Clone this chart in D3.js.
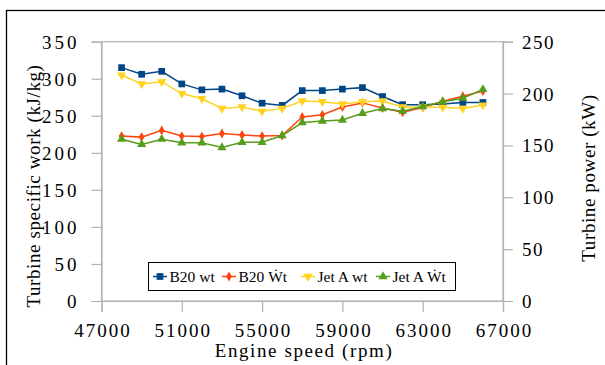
<!DOCTYPE html>
<html>
<head>
<meta charset="utf-8">
<script src="https://cdn.jsdelivr.net/npm/d3@7"></script>
<style>
  body { margin: 0; background: #fff; }
  svg text { font-family: "Liberation Serif", "Times New Roman", Times, "DejaVu Serif", serif !important; fill: #000; }
</style>
</head>
<body>
<svg id="chart" width="605" height="365"></svg>
<script>
// engine speed (rpm) for each measurement
var speeds = [48000, 49000, 50000, 51000, 52000, 53000, 54000, 55000, 56000, 57000,
  58000, 59000, 60000, 61000, 62000, 63000, 64000, 65000, 66000];

// specific work (kJ/kg), left axis
var b20Work = [315, 306, 310, 293, 285, 286, 277, 267, 264, 284,
  284, 286, 288, 276, 265, 265, 266, 268, 268];
var jetAWork = [305, 293, 296, 280, 273, 260, 262, 256, 260, 270,
  269, 266, 269, 270, 262, 262, 261.5, 260, 264.5];

// turbine power (kW), right axis
var b20Power = [159, 158, 164.5, 159, 158.5, 161.5, 160, 159, 159.5, 177.5,
  179.5, 187, 191, 186, 182, 186.5, 192.5, 197.5, 202.5];
var jetAPower = [156, 151, 156, 152.5, 152.5, 148, 153, 153, 159.5, 172,
  173.5, 174.5, 181, 185.5, 183, 187.5, 192, 195.5, 204];

var xTicks = [47000, 51000, 55000, 59000, 63000, 67000];
var leftTicks = [0, 50, 100, 150, 200, 250, 300, 350];
var rightTicks = [0, 50, 100, 150, 200, 250];

var series = [
  { name: "B20 wt",   values: b20Work,   axis: "left",  color: "#004586", symbol: d3.symbolSquare,   size: 45 },
  { name: "B20 \u1E86t", values: b20Power, axis: "right", color: "#ff420e", symbol: d3.symbolDiamond,  size: 28 },
  { name: "Jet A wt", values: jetAWork,  axis: "left",  color: "#ffd320", symbol: "down",            size: 36 },
  { name: "Jet A \u1E86t", values: jetAPower, axis: "right", color: "#579d1c", symbol: d3.symbolTriangle, size: 36 }
];

var svg = d3.select("#chart");

// outer frame (only top and left visible in picture)
svg.append("rect")
  .attr("x", 6.5).attr("y", 10.5)
  .attr("width", 640).attr("height", 400)
  .attr("fill", "none").attr("stroke", "#000").attr("stroke-width", 1.3);

var x = d3.scaleLinear().domain([47000, 67000]).range([101.5, 503]);
var yL = d3.scaleLinear().domain([0, 350]).range([301, 41.7]);
var yR = d3.scaleLinear().domain([0, 250]).range([301, 41.7]);

// plot area border
svg.append("rect")
  .attr("x", x(47000)).attr("y", yL(350))
  .attr("width", x(67000) - x(47000)).attr("height", yL(0) - yL(350))
  .attr("fill", "none").attr("stroke", "#b3b3b3").attr("stroke-width", 1.2);

function styleAxis(g) {
  g.attr("font-family", null);
  g.select(".domain").attr("stroke", "#b3b3b3").attr("stroke-width", 1.2);
  g.selectAll(".tick line").attr("stroke", "#b3b3b3").attr("stroke-width", 1.2);
  g.selectAll(".tick text").style("font-size", "19px").attr("fill", "#000");
}

svg.append("g")
  .attr("transform", "translate(0," + yL(0) + ")")
  .call(d3.axisBottom(x).tickValues(xTicks).tickFormat(d3.format("d")).tickSizeOuter(0).tickSize(11).tickPadding(12))
  .call(styleAxis)
  .selectAll(".tick text").style("letter-spacing", "2px").attr("dx", "1px");

svg.append("g")
  .attr("transform", "translate(" + x(47000) + ",0)")
  .call(d3.axisLeft(yL).tickValues(leftTicks).tickSizeOuter(0).tickSize(10).tickPadding(12))
  .call(styleAxis)
  .selectAll(".tick text").attr("dy", "0.34em").style("letter-spacing", "3px");

svg.append("g")
  .attr("transform", "translate(" + x(67000) + ",0)")
  .call(d3.axisRight(yR).tickValues(rightTicks).tickSizeOuter(0).tickSize(10).tickPadding(9))
  .call(styleAxis)
  .selectAll(".tick text").attr("dy", "0.34em").style("letter-spacing", "1.5px");

// axis titles
svg.append("text")
  .attr("transform", "translate(40,186) rotate(-90)")
  .attr("text-anchor", "middle")
  .style("font-size", "19px").style("letter-spacing", "0.6px")
  .text("Turbine specific work (kJ/kg)");

svg.append("text")
  .attr("transform", "translate(595,178) rotate(-90)")
  .attr("text-anchor", "middle")
  .style("font-size", "19px").style("letter-spacing", "0.6px")
  .text("Turbine power (kW)");

svg.append("text")
  .attr("x", 304).attr("y", 357)
  .attr("text-anchor", "middle")
  .style("font-size", "19px").style("letter-spacing", "1.6px")
  .text("Engine speed (rpm)");

function symbolPath(s) {
  if (s.symbol === "down") {
    return d3.symbol().type(d3.symbolTriangle).size(s.size)();
  }
  return d3.symbol().type(s.symbol).size(s.size)();
}

// lines and markers
series.forEach(function(s) {
  var y = s.axis === "left" ? yL : yR;
  var line = d3.line()
    .x(function(d, i) { return x(speeds[i]); })
    .y(function(d) { return y(d); });

  svg.append("path")
    .datum(s.values)
    .attr("d", line)
    .attr("fill", "none")
    .attr("stroke", s.color)
    .attr("stroke-width", 1.5);

  svg.selectAll(null)
    .data(s.values)
    .enter().append("path")
    .attr("d", symbolPath(s))
    .attr("transform", function(d, i) {
      var t = "translate(" + x(speeds[i]) + "," + y(d) + ")";
      return s.symbol === "down" ? t + " rotate(180)" : t;
    })
    .attr("fill", s.color);
});

// legend
var legend = svg.append("g");
legend.append("rect")
  .attr("x", 148.5).attr("y", 262.5)
  .attr("width", 307).attr("height", 28)
  .attr("fill", "#fff").attr("stroke", "#000").attr("stroke-width", 1);

var legendX = [153, 222, 301, 376];
series.forEach(function(s, i) {
  var g = legend.append("g").attr("transform", "translate(" + legendX[i] + ",276.5)");
  g.append("line").attr("x1", 0).attr("x2", 14)
    .attr("stroke", s.color).attr("stroke-width", 1.5);
  g.append("path")
    .attr("d", symbolPath(s))
    .attr("transform", "translate(7,0)" + (s.symbol === "down" ? " rotate(180)" : ""))
    .attr("fill", s.color);
  g.append("text")
    .attr("x", 16.5).attr("y", 5.5)
    .style("font-size", "15.5px")
    .text(s.name);
});
</script>
</body>
</html>
